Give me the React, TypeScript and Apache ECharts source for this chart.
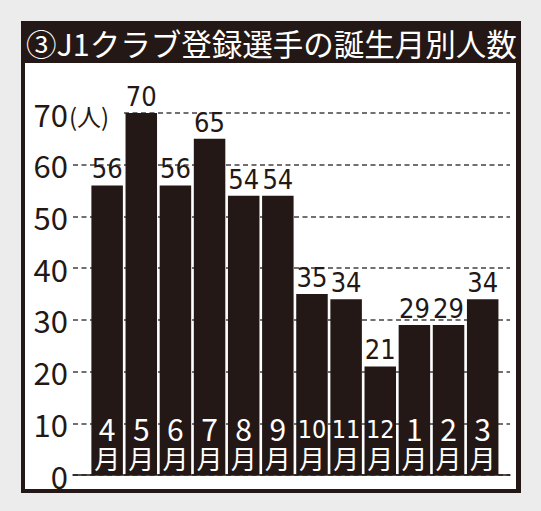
import * as echarts from "echarts";
import { useEffect, useRef } from "react";

// 誕生月 (4月始まり) と J1 登録選手数
const months = ["4", "5", "6", "7", "8", "9", "10", "11", "12", "1", "2", "3"];
const players = [56, 70, 56, 65, 54, 54, 35, 34, 21, 29, 29, 34];
const titleText = "③J1クラブ登録選手の誕生月別人数";
const unitText = "(人)";

const ink = "#231815";
const gridGray = "#707070";
const jpFont = "'Noto Sans CJK JP', 'Noto Sans', sans-serif";
const narrowFont = "'Liberation Sans Narrow', 'DejaVu Sans Condensed', 'Noto Sans CJK JP', sans-serif";

export default function App() {
  const ref = useRef<HTMLDivElement | null>(null);

  useEffect(() => {
    if (!ref.current) return;
    const chart = echarts.init(ref.current, null, { renderer: "svg" });
    const points = players.map((value, index) => [index, value]);

    chart.setOption({
      animation: false,
      backgroundColor: "#ececec",
      graphic: [
        { type: "rect", z: -10, shape: { x: 21, y: 21, width: 500, height: 472 }, style: { fill: ink } },
        { type: "rect", z: -9, shape: { x: 25, y: 63, width: 491, height: 426 }, style: { fill: "#ffffff" } },
        {
          type: "text",
          z: 10,
          x: 26,
          y: 43,
          style: { text: titleText, fill: "#ffffff", fontSize: 30.5, fontFamily: jpFont, fontWeight: "normal", verticalAlign: "middle" },
        },
        {
          type: "text",
          z: 10,
          x: 69,
          y: 115,
          style: {
            text: unitText,
            fill: ink,
            fontSize: 24,
            fontFamily: jpFont,
            verticalAlign: "middle",
            backgroundColor: "#ffffff",
            padding: [2, 14, 2, 0],
          },
        },
      ],
      grid: { left: 73, right: 31, top: 113, bottom: 36 },
      xAxis: {
        type: "value",
        min: -1,
        max: 11.8,
        interval: 1,
        axisLine: { show: true, onZero: false, lineStyle: { color: ink, width: 1.5 } },
        axisTick: { show: false },
        axisLabel: { show: false },
        splitLine: { show: false },
      },
      yAxis: {
        type: "value",
        min: 0,
        max: 70,
        interval: 10,
        axisLine: { show: false },
        axisTick: { show: false },
        axisLabel: { color: ink, fontSize: 31, fontFamily: jpFont, margin: 5 },
        splitLine: { lineStyle: { color: gridGray, width: 1.8, type: [5, 3.5] } },
      },
      series: [
        {
          type: "bar",
          data: points,
          barWidth: 31.5,
          itemStyle: { color: ink },
          label: {
            show: true,
            position: "top",
            distance: 3,
            color: ink,
            fontSize: 27,
            fontFamily: narrowFont,
            formatter: (p: { value: number[] }) => String(p.value[1]),
          },
        },
        {
          type: "bar",
          data: points,
          barWidth: 31.5,
          barGap: "-100%",
          itemStyle: { color: "rgba(0,0,0,0)" },
          z: 3,
          label: {
            show: true,
            position: "insideBottom",
            distance: 3,
            formatter: (p: { dataIndex: number }) => {
              const m = months[p.dataIndex];
              return `{${m.length > 1 ? "w" : "n"}|${m}}\n{m|月}`;
            },
            rich: {
              n: { color: "#ffffff", fontSize: 30, fontFamily: jpFont, lineHeight: 31 },
              w: { color: "#ffffff", fontSize: 25, fontFamily: narrowFont, lineHeight: 31, padding: [4, 0, 0, 0] },
              m: { color: "#ffffff", fontSize: 26, fontFamily: jpFont, lineHeight: 29 },
            },
          },
        },
      ],
    });

    return () => chart.dispose();
  }, []);

  return <div ref={ref} style={{ position: "absolute", left: 0, top: 0, width: 541, height: 511 }} />;
}
